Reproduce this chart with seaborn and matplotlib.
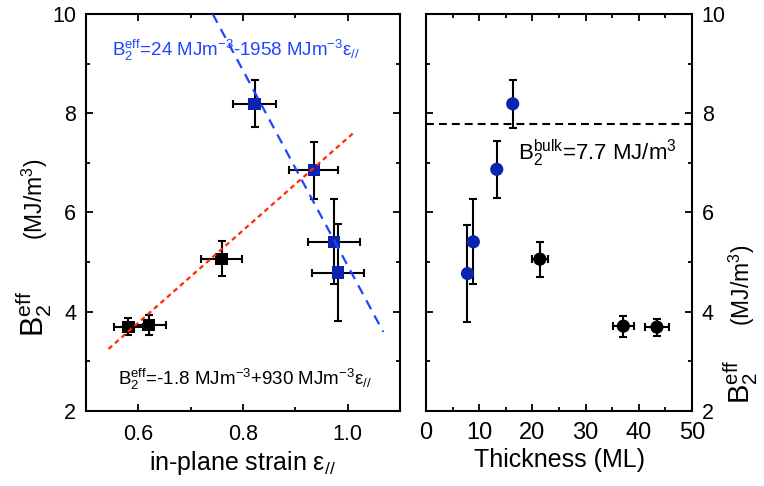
import numpy as np
import pandas as pd
import matplotlib
matplotlib.use("Agg")
import matplotlib.pyplot as plt
import seaborn as sns

# ---------------- data ----------------
# left panel: B2eff vs in-plane strain
strain_black = [0.581, 0.621, 0.759]
b2_black = [3.70, 3.73, 5.07]
strain_black_err = [0.027, 0.031, 0.039]
b2_black_err = [0.17, 0.20, 0.35]

strain_blue = [0.822, 0.935, 0.974, 0.981]
b2_blue = [8.19, 6.85, 5.41, 4.79]
strain_blue_err = [0.042, 0.047, 0.049, 0.050]
b2_blue_err = [0.47, 0.57, 0.86, 0.98]

# fit lines (intercept, slope, x-range)
red_fit = (-1.8, 9.30)
red_fit_x = [0.543, 1.015]
blue_fit = (24.59, -19.66)
blue_fit_x = [0.742, 1.068]

# right panel: B2eff vs thickness
thick_blue = [16.3, 13.3, 8.9, 7.8]
b2_thick_blue = [8.19, 6.87, 5.41, 4.77]
b2_thick_blue_err = [0.48, 0.57, 0.86, 0.97]

thick_black = [21.4, 37.1, 43.4]
b2_thick_black = [5.06, 3.71, 3.69]
thick_black_err = [1.5, 2.0, 2.3]
b2_thick_black_err = [0.35, 0.21, 0.17]

b2_bulk = 7.78

strain_ticks = [0.6, 0.8, 1.0]
strain_ticklabels = ["0.6", "0.8", "1.0"]
thick_ticks = [0, 10, 20, 30, 40, 50]
b2_ticks = [2, 4, 6, 8, 10]

# ---------------- style ----------------
sns.set_theme(style="ticks")
plt.rcParams.update({
    "font.family": ["Liberation Sans", "DejaVu Sans"],
    "mathtext.fontset": "custom",
    "mathtext.rm": "Liberation Sans",
    "mathtext.it": "Liberation Sans:italic",
    "mathtext.bf": "Liberation Sans:bold",
    "mathtext.sf": "Liberation Sans",
    "font.size": 15,
    "axes.linewidth": 1.5,
    "axes.edgecolor": "black",
    "xtick.direction": "in",
    "ytick.direction": "in",
    "xtick.major.size": 5,
    "ytick.major.size": 5,
    "xtick.minor.size": 3,
    "ytick.minor.size": 3,
    "xtick.major.width": 1.3,
    "ytick.major.width": 1.3,
    "xtick.minor.width": 1.3,
    "ytick.minor.width": 1.3,
    "xtick.labelsize": 15.5,
    "ytick.labelsize": 15.5,
    "xtick.color": "black",
    "ytick.color": "black",
    "axes.labelsize": 18,
    "axes.labelcolor": "black",
    "text.color": "black",
})

BLUE_MK = "#0a24b0"
BLUE_LN = "#1f44ff"
RED_LN = "#ff2a00"

fig = plt.figure(figsize=(7.64, 4.86), dpi=100)
W, H = 764, 486
ax1 = fig.add_axes([86 / W, 1 - 411 / H, 314 / W, 397 / H])
ax2 = fig.add_axes([426 / W, 1 - 411 / H, 266 / W, 397 / H])

ebkw = dict(fmt="none", ecolor="black", elinewidth=1.5, capsize=3.2, capthick=1.5, zorder=2)

# ---------- left panel ----------
ax1.errorbar(strain_black, b2_black, xerr=strain_black_err, yerr=b2_black_err, **ebkw)
ax1.errorbar(strain_blue, b2_blue, xerr=strain_blue_err, yerr=b2_blue_err, **ebkw)
sns.scatterplot(x=strain_black, y=b2_black, marker="s", s=78, color="black",
                edgecolor="none", ax=ax1, zorder=3)
sns.scatterplot(x=strain_blue, y=b2_blue, marker="s", s=78, color=BLUE_MK,
                edgecolor="none", ax=ax1, zorder=3)

red_y = [red_fit[0] + red_fit[1] * x for x in red_fit_x]
blue_y = [blue_fit[0] + blue_fit[1] * x for x in blue_fit_x]
sns.lineplot(x=red_fit_x, y=red_y, ax=ax1, color=RED_LN, linewidth=1.6,
             linestyle=(0, (2.2, 1.7)), zorder=4)
sns.lineplot(x=blue_fit_x, y=blue_y, ax=ax1, color=BLUE_LN, linewidth=1.6,
             linestyle=(0, (4.5, 3.2)), zorder=4)

ax1.set_xlim(0.5, 1.1)
ax1.set_ylim(2, 10)
ax1.set_xticks(strain_ticks)
ax1.set_xticklabels(strain_ticklabels)
ax1.set_xticks([0.7, 0.9], minor=True)
ax1.set_yticks(b2_ticks)
ax1.set_yticks([3, 5, 7, 9], minor=True)
ax1.tick_params(which="both", top=True, right=True)
ax1.tick_params(axis="y", pad=7)
ax1.tick_params(axis="x", pad=9)
ax1.set_xlabel(r"in-plane strain $\mathregular{ε_{//}}$", labelpad=3)

ax1.text(0.55, 9.15,
         r"$\mathregular{B_2^{eff}}$=24 MJm$^{\mathregular{-3}}$-1958 MJm$^{\mathregular{-3}}$$\mathregular{ε_{//}}$",
         color=BLUE_LN, fontsize=13.5, ha="left", va="baseline")
ax1.text(0.561, 2.52,
         r"$\mathregular{B_2^{eff}}$=-1.8 MJm$^{\mathregular{-3}}$+930 MJm$^{\mathregular{-3}}$$\mathregular{ε_{//}}$",
         color="black", fontsize=13.5, ha="left", va="baseline")

# left y label (two parts, as in the original)
fig.text(43 / W, 1 - 337 / H, r"$\mathregular{B_2^{eff}}$", fontsize=22,
         rotation=90, rotation_mode="anchor", ha="left", va="baseline")
fig.text(43 / W, 1 - 240 / H, r"(MJ/m$^{\mathregular{3}}$)", fontsize=16.5,
         rotation=90, rotation_mode="anchor", ha="left", va="baseline")

# ---------- right panel ----------
ax2.errorbar(thick_blue, b2_thick_blue, yerr=b2_thick_blue_err, **ebkw)
ax2.errorbar(thick_black, b2_thick_black, xerr=thick_black_err, yerr=b2_thick_black_err, **ebkw)
sns.scatterplot(x=thick_blue, y=b2_thick_blue, marker="o", s=90, color=BLUE_MK,
                edgecolor="none", ax=ax2, zorder=3)
sns.scatterplot(x=thick_black, y=b2_thick_black, marker="o", s=90, color="black",
                edgecolor="none", ax=ax2, zorder=3)
ax2.axhline(b2_bulk, color="black", linewidth=1.5, linestyle=(0, (3.8, 2.4)), zorder=1)

ax2.set_xlim(0, 50)
ax2.set_ylim(2, 10)
ax2.set_xticks(thick_ticks)
ax2.set_xticks([5, 15, 25, 35, 45], minor=True)
ax2.set_yticks(b2_ticks)
ax2.set_yticks([3, 5, 7, 9], minor=True)
ax2.tick_params(which="both", top=True, left=True, right=True,
                labelleft=False, labelright=True)
ax2.tick_params(axis="y", pad=7)
ax2.tick_params(axis="x", pad=8, labelsize=17)
ax2.set_xlabel("Thickness (ML)", labelpad=3)

ax2.text(17.3, 7.06, r"$\mathregular{B_2^{bulk}}$=7.7 MJ/m$^{\mathregular{3}}$",
         fontsize=16, ha="left", va="baseline")

# right y label (two parts)
fig.text(750 / W, 1 - 404 / H, r"$\mathregular{B_2^{eff}}$", fontsize=21,
         rotation=90, rotation_mode="anchor", ha="left", va="baseline")
fig.text(750 / W, 1 - 326 / H, r"(MJ/m$^{\mathregular{3}}$)", fontsize=16.5,
         rotation=90, rotation_mode="anchor", ha="left", va="baseline")

fig.savefig("out.png", dpi=100)
